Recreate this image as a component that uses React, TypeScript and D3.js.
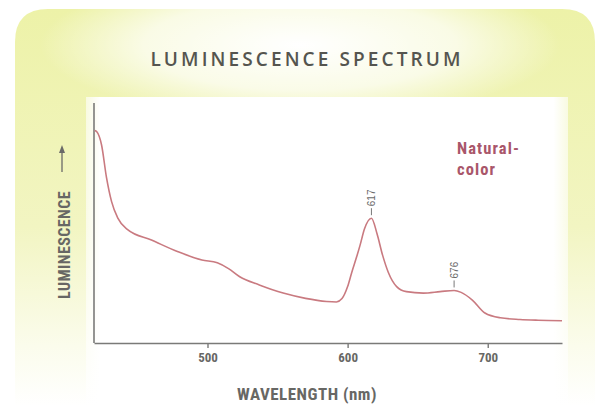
import { useEffect, useRef } from "react"
import * as d3 from "d3"

// spectrum (wavelength nm, luminescence in arbitrary units 0-100)
const wavelengths = [
  419.5, 421, 424.4, 427.9, 431.5, 436, 443, 460, 479, 496, 507, 515, 523, 537, 554, 570, 585, 592,
  596, 600, 603, 606.5, 609, 612, 617, 621, 625, 629, 635, 642, 654, 666, 676, 681, 689, 698, 709,
  723, 736, 753,
]
const luminescence = [
  88.5, 88, 82.5, 69, 59, 52, 47.2, 42.9, 38, 34.6, 33.4, 31, 27.6, 24.2, 20.8, 18.6, 17.3, 17.1,
  18.5, 23.5, 29.5, 36, 41, 47.5, 52, 45.5, 36.5, 29.5, 23.5, 21.4, 20.8, 21.4, 21.9, 21.1, 17.9,
  12.5, 10.5, 9.8, 9.5, 9.3,
]
const xTicks = [500, 600, 700]
const peaks = [617, 676]
const xDomain = [419, 753]

const curveColor = "#c97a80"
const axisColor = "#7a7a78"
const labelColor = "#676764"
const narrow = "'Liberation Sans Narrow', 'Roboto Condensed', 'Arial Narrow', sans-serif"

export default function App() {
  const axisRef = useRef<SVGGElement>(null)

  const x = d3.scaleLinear().domain(xDomain).range([94, 562])
  const y = d3.scaleLinear().domain([0, 100]).range([343, 103])

  const points = wavelengths.map((w, i) => [w, luminescence[i]] as [number, number])
  const line = d3
    .line<[number, number]>()
    .x((d) => x(d[0]))
    .y((d) => y(d[1]))
    .curve(d3.curveMonotoneX)

  // value at a peak wavelength, for placing its label
  const valueAt = (w: number) => {
    const i = wavelengths.indexOf(w)
    return i >= 0 ? luminescence[i] : 0
  }

  useEffect(() => {
    if (!axisRef.current) return
    const g = d3.select(axisRef.current)
    g.selectAll("*").remove()
    g.call(d3.axisBottom(x).tickValues(xTicks).tickSize(5).tickPadding(5).tickSizeOuter(0))
    g.select(".domain").attr("stroke", axisColor).attr("stroke-width", 1.6)
    g.selectAll(".tick line").attr("stroke", axisColor).attr("stroke-width", 1.4)
    g.selectAll(".tick text")
      .attr("fill", labelColor)
      .attr("font-family", narrow)
      .attr("font-weight", "bold")
      .attr("font-size", 13)
  }, [])

  return (
    <svg width={600} height={406} style={{ position: "absolute", left: 0, top: 0 }}>
      <defs>
        <linearGradient id="card" x1="0" y1="0" x2="0" y2="1">
          <stop offset="0" stopColor="#edf2a8" />
          <stop offset="0.55" stopColor="#f2f5c2" />
          <stop offset="0.85" stopColor="#fbfcec" />
          <stop offset="1" stopColor="#ffffff" />
        </linearGradient>
        <radialGradient id="glow" cx="0.5" cy="0.5" r="0.5">
          <stop offset="0" stopColor="#ffffff" stopOpacity="1" />
          <stop offset="0.6" stopColor="#ffffff" stopOpacity="0.7" />
          <stop offset="1" stopColor="#ffffff" stopOpacity="0" />
        </radialGradient>
        <linearGradient id="panel" x1="0" y1="0" x2="1" y2="0">
          <stop offset="0" stopColor="#ffffff" stopOpacity="0.6" />
          <stop offset="0.03" stopColor="#ffffff" stopOpacity="1" />
          <stop offset="0.97" stopColor="#ffffff" stopOpacity="1" />
          <stop offset="1" stopColor="#ffffff" stopOpacity="0.6" />
        </linearGradient>
      </defs>

      <rect width={600} height={406} fill="#ffffff" />
      <path d="M15,406 L15,42 Q15,9 48,9 L562,9 Q595,9 595,42 L595,406 Z" fill="url(#card)" />
      <ellipse cx={300} cy={45} rx={260} ry={75} fill="url(#glow)" />
      <rect x={86} y={97} width={482} height={309} fill="url(#panel)" />

      <text
        x={307}
        y={66}
        textAnchor="middle"
        fill="#55554f"
        fontFamily="'Open Sans', 'DejaVu Sans', sans-serif"
        fontWeight={600}
        fontSize={19}
        letterSpacing={3.1}
      >
        LUMINESCENCE SPECTRUM
      </text>

      {/* y axis: plain line */}
      <line x1={94} x2={94} y1={y(100)} y2={y(0)} stroke={axisColor} strokeWidth={1.6} />
      <g ref={axisRef} transform={`translate(0,${y(0)})`} />

      <path d={line(points) ?? ""} fill="none" stroke={curveColor} strokeWidth={1.6} />

      {peaks.map((p) => {
        const px = x(p)
        const py = y(valueAt(p))
        return (
          <g key={p}>
            <line x1={px} x2={px} y1={py - 3} y2={py - 10} stroke="#6a6a6a" strokeWidth={0.9} />
            <text
              transform={`translate(${px + 3.5},${py - 12}) rotate(-90)`}
              fill="#6a6a6a"
              fontFamily="'Liberation Sans', Arial, sans-serif"
              fontSize={10}
            >
              {p}
            </text>
          </g>
        )
      })}

      <text x={457} y={154} fill="#a9566a" fontFamily={narrow} fontWeight="bold" fontSize={16.5} letterSpacing={1.1}>
        Natural-
      </text>
      <text x={457} y={175} fill="#a9566a" fontFamily={narrow} fontWeight="bold" fontSize={16.5} letterSpacing={1.1}>
        color
      </text>

      <text
        transform="translate(70,245) rotate(-90)"
        textAnchor="middle"
        fill={labelColor}
        fontFamily={narrow}
        fontWeight="bold"
        fontSize={16}
        letterSpacing={0.4}
      >
        LUMINESCENCE
      </text>
      <line x1={62} x2={62} y1={172} y2={150} stroke="#6a6a68" strokeWidth={1.3} />
      <path d="M62,145 L59,153 L65,153 Z" fill="#6a6a68" />

      <text
        x={307}
        y={400}
        textAnchor="middle"
        fill={labelColor}
        fontFamily={narrow}
        fontWeight="bold"
        fontSize={17}
        letterSpacing={0.5}
      >
        WAVELENGTH (nm)
      </text>
    </svg>
  )
}
